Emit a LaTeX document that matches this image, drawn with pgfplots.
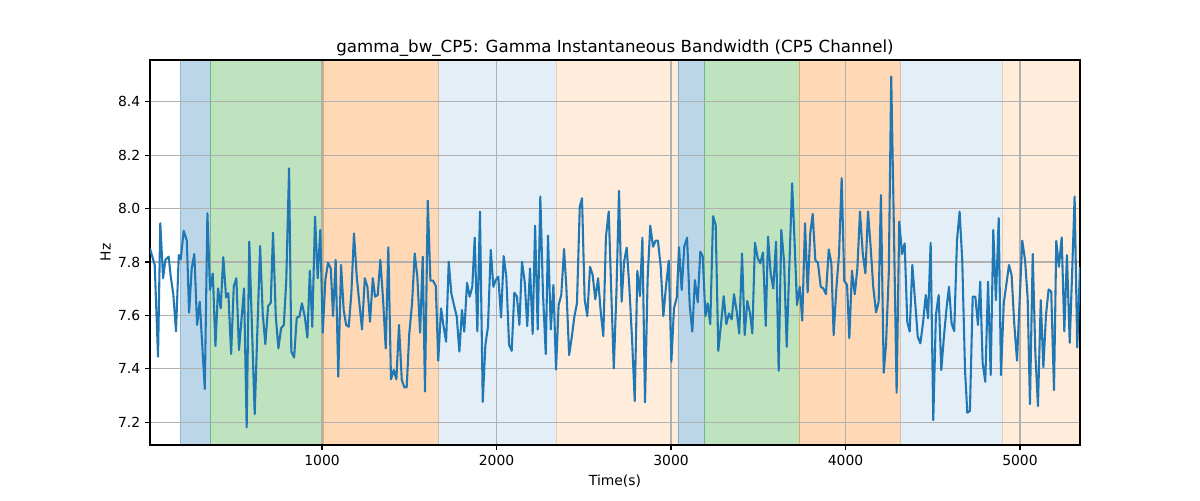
\documentclass[border=0pt]{standalone}
\usepackage{pgfplots}
\pgfplotsset{compat=1.18}
\usepackage{fontspec}
\setmainfont{DejaVu Sans}
\definecolor{tabblue}{RGB}{31,119,180}
\definecolor{taborange}{RGB}{255,127,14}
\definecolor{tabgreen}{RGB}{44,160,44}
\definecolor{gridgray}{RGB}{176,176,176}
\begin{document}
\begin{tikzpicture}
\begin{axis}[
  at={(108pt,39.6pt)}, anchor=south west,
  scale only axis, width=669.6pt, height=277.2pt,
  xmin=14, xmax=5344, ymin=7.114, ymax=8.557,
  xtick={1000,2000,3000,4000,5000},
  ytick={7.2,7.4,7.6,7.8,8.0,8.2,8.4},
  xticklabel style={/pgf/number format/.cd,1000 sep={}},
  yticklabel style={/pgf/number format/.cd,fixed,fixed zerofill,precision=1},
  /pgf/number format/assume math mode=true,
  /pgf/number format/1000 sep={},
  scaled x ticks=false,
  grid=major,
  grid style={color=gridgray, line width=0.8pt},
  tick style={black, line width=0.8pt},
  major tick length=3.5pt,
  tick align=outside,
  xtick pos=bottom, ytick pos=left,
  axis line style={black, line width=0.8pt},
  ticklabel style={font=\fontsize{10}{12}\selectfont},
  title={gamma\_bw\_CP5: Gamma Instantaneous Bandwidth (CP5 Channel)},
  title style={font=\fontsize{12}{14}\selectfont, yshift=-6.8pt},
  xlabel={Time(s)}, ylabel={Hz},
  label style={font=\fontsize{10}{12}\selectfont},
  ylabel style={yshift=-1.4pt},
  set layers=standard,
]
% shaded phases
\addplot[on layer=axis background, fill=tabblue, fill opacity=0.3, draw=tabblue, draw opacity=0.3] coordinates {(186,7.114) (358,7.114) (358,8.557) (186,8.557) (186,7.114)};
\addplot[on layer=axis background, fill=tabgreen, fill opacity=0.3, draw=tabgreen, draw opacity=0.3] coordinates {(358,7.114) (1005,7.114) (1005,8.557) (358,8.557) (358,7.114)};
\addplot[on layer=axis background, fill=taborange, fill opacity=0.3, draw=taborange, draw opacity=0.3] coordinates {(1005,7.114) (1665,7.114) (1665,8.557) (1005,8.557) (1005,7.114)};
\addplot[on layer=axis background, fill=tabblue, fill opacity=0.12, draw=tabblue, draw opacity=0.12] coordinates {(1665,7.114) (2341,7.114) (2341,8.557) (1665,8.557) (1665,7.114)};
\addplot[on layer=axis background, fill=taborange, fill opacity=0.15, draw=taborange, draw opacity=0.15] coordinates {(2341,7.114) (3040,7.114) (3040,8.557) (2341,8.557) (2341,7.114)};
\addplot[on layer=axis background, fill=tabblue, fill opacity=0.3, draw=tabblue, draw opacity=0.3] coordinates {(3040,7.114) (3189,7.114) (3189,8.557) (3040,8.557) (3040,7.114)};
\addplot[on layer=axis background, fill=tabgreen, fill opacity=0.3, draw=tabgreen, draw opacity=0.3] coordinates {(3189,7.114) (3734,7.114) (3734,8.557) (3189,8.557) (3189,7.114)};
\addplot[on layer=axis background, fill=taborange, fill opacity=0.3, draw=taborange, draw opacity=0.3] coordinates {(3734,7.114) (4312,7.114) (4312,8.557) (3734,8.557) (3734,7.114)};
\addplot[on layer=axis background, fill=tabblue, fill opacity=0.12, draw=tabblue, draw opacity=0.12] coordinates {(4312,7.114) (4897,7.114) (4897,8.557) (4312,8.557) (4312,7.114)};
\addplot[on layer=axis background, fill=taborange, fill opacity=0.15, draw=taborange, draw opacity=0.15] coordinates {(4897,7.114) (5344,7.114) (5344,8.557) (4897,8.557) (4897,7.114)};
% signal
\addplot[tabblue, line width=1.5pt, line join=round, mark=none] table {
14 7.85
41 7.789
60 7.445
73 7.945
89 7.739
102 7.808
121 7.82
133 7.745
148 7.676
163 7.54
179 7.826
190 7.81
207 7.917
225 7.88
238 7.61
253 7.776
268 7.83
284 7.564
299 7.651
328 7.324
343 7.983
358 7.695
374 7.757
389 7.485
404 7.701
419 7.626
434 7.818
450 7.667
463 7.683
479 7.455
494 7.708
509 7.739
524 7.47
553 7.701
568 7.18
583 7.876
614 7.23
645 7.86
660 7.607
675 7.492
691 7.635
706 7.647
719 7.91
735 7.595
750 7.476
765 7.551
781 7.564
795 7.732
811 8.151
824 7.464
840 7.442
855 7.591
870 7.595
885 7.645
901 7.595
916 7.516
930 7.767
944 7.557
960 7.97
975 7.739
990 7.92
1004 7.535
1019 7.732
1034 7.797
1050 7.776
1063 7.597
1078 7.808
1093 7.37
1109 7.789
1124 7.62
1138 7.564
1153 7.557
1168 7.683
1183 7.907
1199 7.745
1214 7.645
1229 7.547
1245 7.739
1260 7.707
1275 7.576
1291 7.739
1304 7.67
1319 7.676
1334 7.808
1350 7.657
1365 7.476
1380 7.855
1395 7.36
1411 7.395
1426 7.36
1441 7.564
1457 7.357
1472 7.33
1485 7.33
1500 7.532
1516 7.645
1531 7.832
1546 7.745
1562 7.535
1577 7.82
1590 7.314
1606 8.03
1621 7.73
1636 7.73
1652 7.71
1666 7.43
1682 7.626
1697 7.557
1711 7.501
1726 7.801
1741 7.682
1756 7.639
1772 7.595
1787 7.464
1802 7.62
1815 7.539
1831 7.722
1846 7.67
1861 7.707
1875 7.891
1890 7.54
1905 7.989
1921 7.276
1936 7.489
1951 7.557
1967 7.845
1982 7.707
1995 7.732
2010 7.745
2026 7.592
2041 7.822
2056 7.745
2072 7.489
2087 7.467
2102 7.685
2117 7.67
2131 7.564
2146 7.801
2162 7.722
2176 7.56
2192 7.776
2207 7.53
2221 7.936
2236 7.547
2251 8.045
2266 7.685
2282 7.455
2295 7.899
2311 7.547
2326 7.714
2341 7.397
2356 7.639
2371 7.676
2387 7.849
2400 7.707
2416 7.451
2431 7.517
2446 7.595
2461 7.645
2477 8.007
2490 8.039
2505 7.66
2520 7.597
2536 7.782
2551 7.751
2566 7.66
2582 7.739
2597 7.614
2612 7.522
2627 7.895
2643 7.989
2657 7.70
2672 7.401
2687 7.683
2702 8.066
2717 7.651
2731 7.801
2746 7.854
2761 7.707
2777 7.507
2792 7.279
2807 7.767
2822 7.672
2836 7.891
2851 7.274
2866 7.739
2881 7.936
2897 7.857
2912 7.88
2925 7.88
2941 7.782
2956 7.597
2971 7.707
2987 7.805
3002 7.426
3017 7.626
3033 7.667
3046 7.855
3061 7.695
3076 7.857
3092 7.891
3107 7.639
3122 7.539
3137 7.732
3153 7.649
3168 7.839
3182 7.82
3197 7.597
3210 7.645
3225 7.567
3241 7.972
3256 7.939
3271 7.467
3287 7.57
3302 7.672
3317 7.567
3332 7.607
3348 7.585
3361 7.679
3376 7.617
3391 7.532
3407 7.832
3422 7.526
3437 7.654
3453 7.607
3466 7.532
3481 7.872
3497 7.814
3512 7.795
3527 7.836
3543 7.561
3556 7.895
3571 7.757
3586 7.701
3602 7.876
3617 7.392
3632 7.92
3648 7.801
3663 7.482
3678 7.782
3694 8.095
3707 7.895
3722 7.639
3738 7.707
3752 7.58
3768 7.945
3783 7.686
3798 7.907
3812 7.98
3827 7.807
3842 7.797
3858 7.707
3873 7.701
3888 7.679
3904 7.847
3919 7.795
3932 7.526
3947 7.695
3963 7.83
3978 8.114
3993 7.729
4009 7.714
4022 7.514
4037 7.767
4053 7.679
4068 7.776
4083 7.989
4099 7.832
4114 7.757
4129 7.989
4144 7.857
4159 7.707
4175 7.611
4190 7.651
4203 8.051
4219 7.385
4232 7.489
4248 7.757
4262 8.495
4278 7.90
4293 7.31
4308 7.951
4324 7.83
4339 7.87
4354 7.576
4368 7.539
4383 7.789
4398 7.66
4414 7.52
4429 7.495
4444 7.57
4460 7.676
4473 7.589
4488 7.872
4503 7.207
4518 7.601
4534 7.676
4549 7.395
4564 7.52
4580 7.632
4593 7.707
4608 7.57
4623 7.541
4639 7.882
4654 7.989
4669 7.807
4685 7.395
4698 7.235
4713 7.242
4729 7.67
4744 7.67
4759 7.564
4772 7.726
4786 7.42
4801 7.351
4817 7.726
4832 7.376
4847 7.92
4862 7.657
4878 7.964
4891 7.376
4907 7.645
4922 7.717
4937 7.789
4952 7.751
4967 7.57
4983 7.43
4998 7.657
5013 7.88
5029 7.807
5044 7.664
5057 7.267
5073 7.83
5088 7.457
5103 7.26
5119 7.657
5134 7.405
5149 7.601
5164 7.697
5179 7.689
5195 7.32
5208 7.879
5223 7.782
5239 7.892
5254 7.54
5269 7.826
5285 7.497
5300 7.782
5313 8.045
5328 7.48
5344 7.782
};
\end{axis}
\path (0,0) rectangle (864pt,360pt);
\end{tikzpicture}
\end{document}
